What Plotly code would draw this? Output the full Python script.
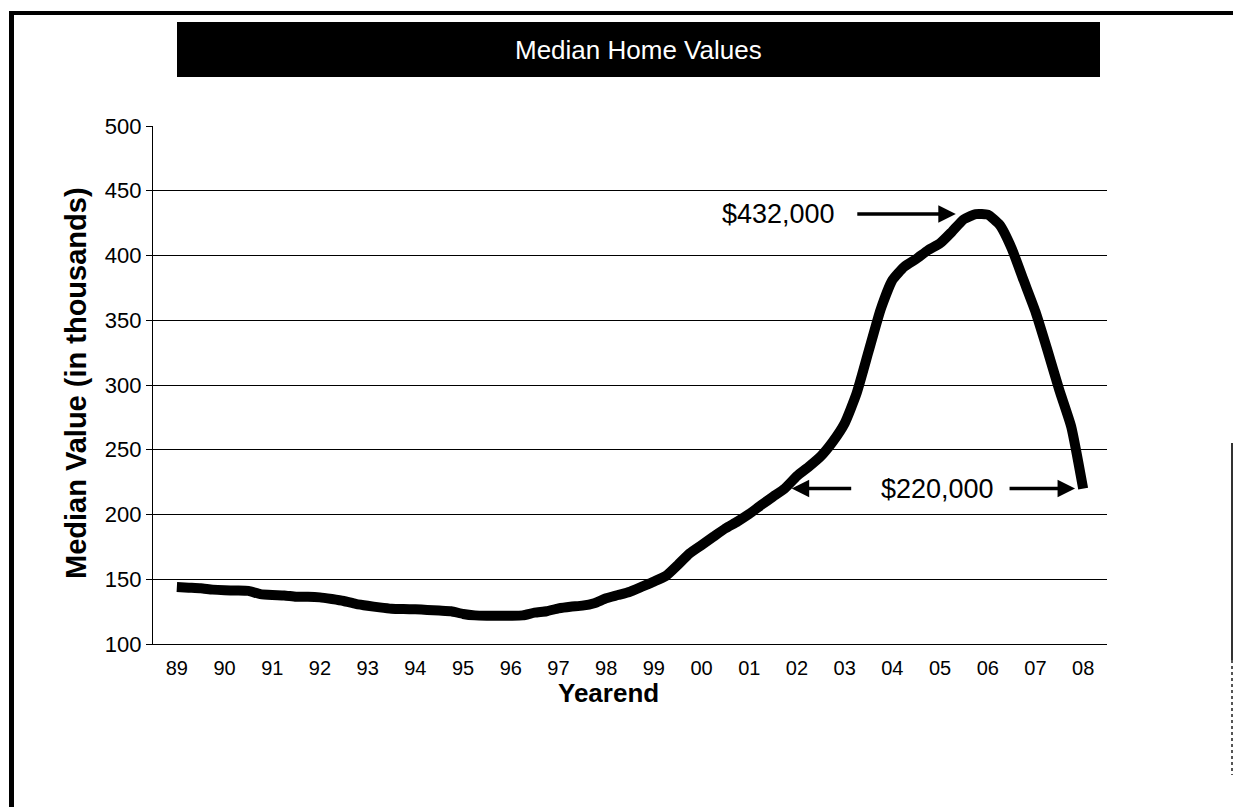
import plotly.graph_objects as go

# Year-end labels along the category axis
year_labels = ["89", "90", "91", "92", "93", "94", "95", "96", "97", "98",
               "99", "00", "01", "02", "03", "04", "05", "06", "07", "08"]

# Quarterly observations, position measured in years from year-end 1989
quarter_pos = [q / 4 for q in range(77)]

# Median home value, thousands of dollars
median_value = [
    144.0, 143.5, 143.0, 142.0,
    141.5, 141.3, 141.0, 138.5,
    137.8, 137.5, 136.5, 136.5,
    136.0, 134.7, 133.2, 131.0,
    129.5, 128.3, 127.3, 127.0,
    126.8, 126.3, 125.8, 125.3,
    123.2, 122.1, 121.9, 121.9,
    121.9, 122.1, 124.2, 125.3,
    127.5, 128.8, 129.6, 131.5,
    135.3, 137.8, 140.4, 144.3,
    148.2, 152.5, 161.0, 170.0,
    176.4, 182.9, 189.3, 194.5,
    200.4, 207.3, 213.8, 220.3,
    229.7, 237.0, 245.0, 256.2,
    270.4, 293.5, 325.7, 357.9,
    381.0, 391.3, 397.3, 404.2,
    409.4, 418.4, 428.0, 432.0,
    431.5, 423.6, 405.6, 381.0,
    356.6, 327.0, 296.1, 267.8,
    220.0,
]

peak_value = 432
latest_value = 220

W, H = 1233, 807
L, R, T, B = 153, 1107, 126, 644


def px(x):
    return (x - L) / (R - L)


def py(y):
    return (B - y) / (B - T)


FONT = "Liberation Sans, Arial, sans-serif"

fig = go.Figure()
fig.add_trace(go.Scatter(
    x=quarter_pos,
    y=median_value,
    mode="lines",
    line=dict(color="black", width=10, shape="spline", smoothing=0.5),
    hoverinfo="skip",
    showlegend=False,
))

peak_pos = quarter_pos[median_value.index(max(median_value))]
last_pos = quarter_pos[-1]

annotations = [
    # chart heading
    dict(xref="paper", yref="paper", x=px(638), y=py(50), text="Median Home Values",
         showarrow=False, font=dict(family=FONT, size=26, color="white"),
         xanchor="center", yanchor="middle"),
    # axis titles
    dict(xref="paper", yref="paper", x=px(76), y=py(383),
         text="<b>Median Value (in thousands)</b>", textangle=-90, showarrow=False,
         font=dict(family=FONT, size=29, color="black"),
         xanchor="center", yanchor="middle"),
    dict(xref="paper", yref="paper", x=px(608), y=py(693), text="<b>Yearend</b>",
         showarrow=False, font=dict(family=FONT, size=26, color="black"),
         xanchor="center", yanchor="middle"),
    # peak callout
    dict(xref="paper", yref="y", x=px(778), y=peak_value, text="$432,000",
         showarrow=False, font=dict(family=FONT, size=27, color="black"),
         xanchor="center", yanchor="middle"),
    dict(xref="x", yref="y", x=peak_pos - 0.42, y=peak_value, ax=-100, ay=0,
         text="", showarrow=True, arrowhead=2, arrowsize=1.0, arrowwidth=3.5,
         arrowcolor="black"),
    # latest value callout
    dict(xref="paper", yref="y", x=px(937), y=latest_value, text="$220,000",
         showarrow=False, font=dict(family=FONT, size=27, color="black"),
         xanchor="center", yanchor="middle"),
    dict(xref="x", yref="y", x=12.89, y=latest_value, ax=61, ay=0,
         text="", showarrow=True, arrowhead=2, arrowsize=1.0, arrowwidth=3.5,
         arrowcolor="black"),
    dict(xref="x", yref="y", x=last_pos - 0.17, y=latest_value, ax=-67, ay=0,
         text="", showarrow=True, arrowhead=2, arrowsize=1.0, arrowwidth=3.5,
         arrowcolor="black"),
]

shapes = [
    # heading banner
    dict(type="rect", xref="paper", yref="paper", x0=px(177), x1=px(1100),
         y0=py(22), y1=py(77), fillcolor="black", line=dict(width=0), layer="below"),
    # page frame
    dict(type="rect", xref="paper", yref="paper", x0=px(9), x1=px(14),
         y0=py(11), y1=py(807), fillcolor="black", line=dict(width=0)),
    dict(type="rect", xref="paper", yref="paper", x0=px(9), x1=px(1233),
         y0=py(11), y1=py(15), fillcolor="black", line=dict(width=0)),
    dict(type="line", xref="paper", yref="paper", x0=px(1232), x1=px(1232),
         y0=py(443), y1=py(660), line=dict(color="#333333", width=2)),
    dict(type="line", xref="paper", yref="paper", x0=px(1232), x1=px(1232),
         y0=py(660), y1=py(775), line=dict(color="#555555", width=2, dash="dot")),
]

fig.update_layout(
    width=W, height=H, autosize=False,
    margin=dict(l=L, r=W - R, t=T, b=H - B, pad=0),
    paper_bgcolor="white", plot_bgcolor="white",
    showlegend=False,
    annotations=annotations,
    shapes=shapes,
    xaxis=dict(
        range=[-0.5, 19.5],
        tickmode="array", tickvals=list(range(len(year_labels))), ticktext=year_labels,
        showgrid=False, zeroline=False,
        showline=True, linecolor="black", linewidth=1.3,
        ticks="", ticklabelstandoff=6,
        tickfont=dict(family=FONT, size=20, color="black"),
        fixedrange=True,
    ),
    yaxis=dict(
        range=[100, 500], dtick=50, tick0=100,
        showgrid=True, gridcolor="black", gridwidth=1.3,
        zeroline=False,
        showline=True, linecolor="black", linewidth=1.3,
        ticks="outside", ticklen=6, tickcolor="black", tickwidth=1.3,
        tickfont=dict(family=FONT, size=22, color="black"),
        fixedrange=True,
    ),
)

fig.write_html("out.html")
